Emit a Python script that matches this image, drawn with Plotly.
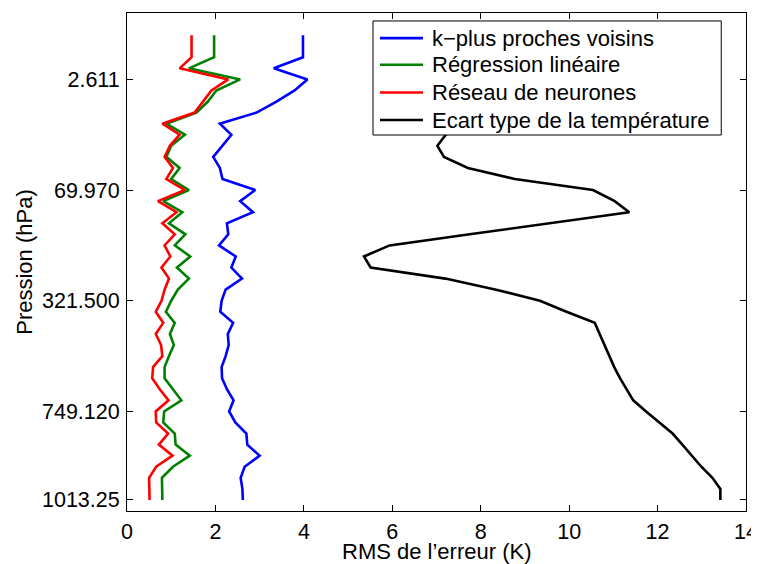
import plotly.graph_objects as go

levels = list(range(1, 44))
tick_levels = [5, 15, 25, 35, 43]
tick_labels = ["2.611", "69.970", "321.500", "749.120", "1013.25"]

knn = [3.98, 3.98, 3.98, 3.32, 4.08, 3.79, 3.38, 2.93, 2.10, 2.36,
       2.16, 1.95, 2.10, 2.16, 2.90, 2.56, 2.85, 2.26, 2.29, 2.08,
       2.46, 2.36, 2.60, 2.23, 2.14, 2.11, 2.40, 2.28, 2.30, 2.23,
       2.14, 2.15, 2.26, 2.41, 2.31, 2.45, 2.70, 2.72, 3.00, 2.66,
       2.57, 2.61, 2.62]
reg_lin = [1.97, 1.97, 1.97, 1.40, 2.56, 2.02, 1.83, 1.57, 0.89, 1.31,
           1.00, 0.89, 1.19, 1.00, 1.40, 0.82, 1.25, 0.95, 1.32, 1.08,
           1.43, 1.13, 1.40, 1.15, 1.00, 0.88, 1.08, 0.97, 1.06, 0.95,
           0.85, 0.85, 1.04, 1.23, 0.84, 0.82, 1.08, 1.10, 1.42, 1.04,
           0.79, 0.80, 0.80]
neur = [1.46, 1.46, 1.46, 1.19, 2.29, 1.91, 1.72, 1.53, 0.80, 1.19,
        0.97, 0.85, 1.04, 0.89, 1.31, 0.70, 1.12, 0.80, 1.08, 0.85,
        0.98, 0.78, 0.95, 0.85, 0.78, 0.65, 0.82, 0.65, 0.77, 0.80,
        0.59, 0.57, 0.74, 0.94, 0.65, 0.66, 0.93, 0.72, 1.03, 0.66,
        0.50, 0.50, 0.51]
ecart = [8.2, 8.6, 9.0, 8.8, 8.3, 7.8, 7.5, 7.4, 7.5, 7.21,
         7.02, 7.17, 7.71, 8.77, 10.54, 11.03, 11.36, 9.50, 7.75, 5.94,
         5.36, 5.51, 7.20, 8.35, 9.34, 9.94, 10.58, 10.69, 10.80, 10.90,
         11.02, 11.15, 11.30, 11.45, 11.74, 12.04, 12.34, 12.56, 12.77, 12.99,
         13.24, 13.42, 13.42]

names = ["k\u2212plus proches voisins", "Régression linéaire",
         "Réseau de neurones", "Ecart type de la température"]
colors = ["#0000ff", "#008000", "#ff0000", "#000000"]
series = [knn, reg_lin, neur, ecart]

FONT = "Liberation Sans, Arial, Helvetica, sans-serif"
FS = 21.5
fig = go.Figure()
for s, n, c in zip(series, names, colors):
    fig.add_trace(go.Scatter(x=s, y=levels, mode="lines", name=n, showlegend=False,
                             line=dict(color=c, width=2.6)))

axis_common = dict(showline=True, linecolor="black", linewidth=1, mirror="ticks",
                   ticks="inside", ticklen=6, tickcolor="black", showgrid=False,
                   zeroline=False, automargin=False,
                   tickfont=dict(size=FS, color="black", family=FONT))
fig.update_xaxes(range=[0, 14], tickvals=list(range(0, 15, 2)), ticklabelstandoff=1,
                 **axis_common)
fig.update_yaxes(range=[44, -1], tickvals=tick_levels, ticktext=tick_labels,
                 title=dict(text="Pression (hPa)", font=dict(size=22, color="black", family=FONT), standoff=3),
                 ticklabelstandoff=2,
                 **axis_common)

# x-axis title as an annotation so it sits where the reference puts it
fig.add_annotation(text="RMS de l\u2019erreur (K)", xref="paper", yref="paper",
                   x=0.5, y=-0.0823, xanchor="center", yanchor="middle",
                   showarrow=False, font=dict(size=22, color="black", family=FONT))

# boxed legend (MATLAB style) in paper coordinates
lx0, lx1, ly0, ly1 = 0.3974, 0.960, 0.755, 0.984
fig.add_shape(type="rect", xref="paper", yref="paper", x0=lx0, x1=lx1, y0=ly0, y1=ly1,
              fillcolor="white", line=dict(color="black", width=1), layer="above")
row_y = [0.9495, 0.896, 0.8405, 0.785]
for ry, n, c in zip(row_y, names, colors):
    fig.add_shape(type="line", xref="paper", yref="paper", x0=0.4087, x1=0.4782,
                  y0=ry, y1=ry, line=dict(color=c, width=2.6), layer="above")
    fig.add_annotation(text=n, xref="paper", yref="paper", x=0.4895, y=ry,
                       xanchor="left", yanchor="middle", showarrow=False,
                       font=dict(size=22, color="black", family=FONT))

# the page body adds an 8px offset; size and margins compensate so the axes land where the reference has them
fig.update_layout(
    width=751, height=556,
    margin=dict(l=119, r=13, t=5, b=53),
    plot_bgcolor="white", paper_bgcolor="white",
    font=dict(family=FONT, color="black", size=22),
    showlegend=False,
)
fig.write_html("out.html")
